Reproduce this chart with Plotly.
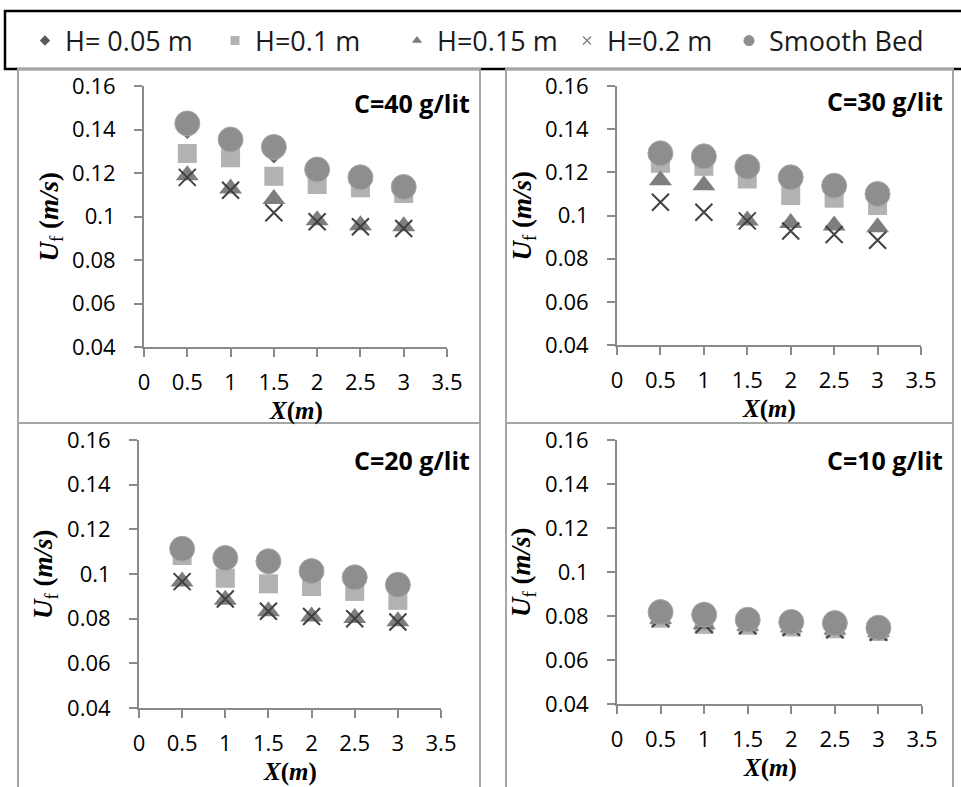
import plotly.graph_objects as go

W, H = 961, 787

# ---------------- data ----------------
x_pos = [0.5, 1, 1.5, 2, 2.5, 3]
series_names = ["H= 0.05 m", "H=0.1 m", "H=0.15 m", "H=0.2 m", "Smooth Bed"]
panel_titles = ["C=40 g/lit", "C=30 g/lit", "C=20 g/lit", "C=10 g/lit"]
x_ticks = [0, 0.5, 1, 1.5, 2, 2.5, 3, 3.5]
y_ticks = [0.04, 0.06, 0.08, 0.1, 0.12, 0.14, 0.16]

# C = 40 g/lit
c40_h005 = [0.1392, 0.1325, 0.1279, 0.1190, 0.1155, 0.1110]
c40_h01 = [0.1290, 0.1270, 0.1185, 0.1147, 0.1132, 0.1106]
c40_h015 = [0.1190, 0.1129, 0.1080, 0.0983, 0.0960, 0.0955]
c40_h02 = [0.1180, 0.1121, 0.1017, 0.0976, 0.0953, 0.0945]
c40_smooth = [0.1428, 0.1354, 0.1320, 0.1216, 0.1180, 0.1136]

# C = 30 g/lit
c30_h005 = [0.1260, 0.1250, 0.1200, 0.1150, 0.1110, 0.1075]
c30_h01 = [0.1242, 0.1228, 0.1169, 0.1092, 0.1080, 0.1046]
c30_h015 = [0.1163, 0.1140, 0.0977, 0.0965, 0.0954, 0.0946]
c30_h02 = [0.1061, 0.1015, 0.0975, 0.0928, 0.0912, 0.0885]
c30_smooth = [0.1288, 0.1274, 0.1226, 0.1177, 0.1138, 0.1100]

# C = 20 g/lit
c20_h005 = [0.1090, 0.1040, 0.1030, 0.0990, 0.0960, 0.0925]
c20_h01 = [0.1083, 0.0981, 0.0956, 0.0944, 0.0922, 0.0882]
c20_h015 = [0.0966, 0.0885, 0.0833, 0.0810, 0.0803, 0.0788]
c20_h02 = [0.0966, 0.0888, 0.0833, 0.0810, 0.0800, 0.0785]
c20_smooth = [0.1113, 0.1072, 0.1057, 0.1013, 0.0985, 0.0952]

# C = 10 g/lit
c10_h005 = [0.0795, 0.0775, 0.0765, 0.0758, 0.0750, 0.0735]
c10_h01 = [0.0790, 0.0762, 0.0758, 0.0750, 0.0742, 0.0730]
c10_h015 = [0.0788, 0.0762, 0.0756, 0.0749, 0.0739, 0.0727]
c10_h02 = [0.0788, 0.0761, 0.0756, 0.0749, 0.0737, 0.0726]
c10_smooth = [0.0818, 0.0806, 0.0783, 0.0773, 0.0768, 0.0747]

panels = [
    [c40_h005, c40_h01, c40_h015, c40_h02, c40_smooth],
    [c30_h005, c30_h01, c30_h015, c30_h02, c30_smooth],
    [c20_h005, c20_h01, c20_h015, c20_h02, c20_smooth],
    [c10_h005, c10_h01, c10_h015, c10_h02, c10_smooth],
]

# ---------------- styles ----------------
styles = [
    dict(symbol="diamond", size=12, color="#6b6b6b", line=dict(width=0)),
    dict(symbol="square", size=19, color="#b2b2b2", line=dict(width=0)),
    dict(symbol="triangle-up", size=20, color="#7e7e7e", line=dict(width=0)),
    dict(symbol="x-thin", size=17, color="#404040", line=dict(width=2, color="#404040")),
    dict(symbol="circle", size=25, color="#8e8e8e", line=dict(width=1, color="#a8a8a8")),
]
legend_styles = [
    dict(symbol="diamond", size=8, color="#595959", line=dict(width=0)),
    dict(symbol="square", size=9, color="#b2b2b2", line=dict(width=0)),
    dict(symbol="triangle-up", size=9, color="#7e7e7e", line=dict(width=0)),
    dict(symbol="x-thin", size=8, color="#7f7f7f", line=dict(width=1.3, color="#7f7f7f")),
    dict(symbol="circle", size=11, color="#8e8e8e", line=dict(width=0)),
]
legend_widths = [145, 137, 125, 117, 170]

# plot-area pixel boxes: (left, right, top, bottom)
boxes = [
    (144, 447, 86, 347),
    (617, 921, 86, 345),
    (139, 441, 440, 708),
    (617, 922, 440, 704),
]
# panel borders: (left, right, top, bottom)
borders = [
    (18, 480, 69, 423),
    (506, 953, 69, 423),
    (18, 480, 423, 800),
    (506, 953, 423, 800),
]
title_pos = [(472, 103), (945, 101), (472, 460), (945, 460)]

FONT = "Open Sans"
AXC = "#8a8a8a"

fig = go.Figure()

for p, series in enumerate(panels):
    suffix = "" if p == 0 else str(p + 1)
    for s, vals in enumerate(series):
        fig.add_trace(go.Scatter(
            x=x_pos, y=vals, mode="markers", name=series_names[s],
            marker=styles[s], showlegend=False,
            xaxis="x" + suffix, yaxis="y" + suffix,
        ))

# legend entries
for s, name in enumerate(series_names):
    fig.add_trace(go.Scatter(
        x=[None], y=[None], mode="markers", name=name,
        marker=legend_styles[s], showlegend=True, legendwidth=legend_widths[s],
    ))

layout = dict(
    width=W, height=H, margin=dict(l=0, r=0, t=0, b=0, autoexpand=False),
    paper_bgcolor="white", plot_bgcolor="white",
    showlegend=True,
    legend=dict(
        orientation="h", x=25 / W, xanchor="left", y=1 - 41 / H, yanchor="middle",
        font=dict(family=FONT, size=27, color="#1a1a1a"),
        bgcolor="rgba(0,0,0,0)", borderwidth=0, itemclick=False,
    ),
)

for p, (l, r, t, b) in enumerate(boxes):
    suffix = "" if p == 0 else str(p + 1)
    layout["xaxis" + suffix] = dict(
        domain=[l / W, r / W], range=[0, 3.5], anchor="y" + suffix,
        tickmode="array", tickvals=x_ticks, ticktext=[f"{v:g}" for v in x_ticks],
        showline=True, linecolor=AXC, linewidth=2, ticks="outside", ticklen=8,
        tickwidth=2, tickcolor=AXC, showgrid=False, zeroline=False,
        tickfont=dict(family=FONT, size=22, color="#000000"),
        ticklabelstandoff=7, fixedrange=True,
    )
    layout["yaxis" + suffix] = dict(
        domain=[1 - b / H, 1 - t / H], range=[0.04, 0.16], anchor="x" + suffix,
        tickmode="array", tickvals=y_ticks, ticktext=[f"{v:g}" for v in y_ticks],
        showline=True, linecolor=AXC, linewidth=2, ticks="outside", ticklen=8,
        tickwidth=2, tickcolor=AXC, showgrid=False, zeroline=False,
        tickfont=dict(family=FONT, size=22, color="#000000"),
        ticklabelstandoff=14, fixedrange=True,
    )

fig.update_layout(**layout)

shapes = []
# legend box
shapes.append(dict(type="rect", xref="paper", yref="paper",
                   x0=5 / W, x1=1.01, y0=1 - 69 / H, y1=1 - 11 / H,
                   line=dict(color="#000000", width=2.5), layer="below"))
for (l, r, t, b) in borders:
    shapes.append(dict(type="rect", xref="paper", yref="paper",
                       x0=l / W, x1=r / W, y0=1 - b / H, y1=1 - t / H,
                       line=dict(color="#a6a6a6", width=2), layer="below"))
fig.update_layout(shapes=shapes)

annotations = []
for p, (tx, ty) in enumerate(title_pos):
    annotations.append(dict(
        text="<b>" + panel_titles[p] + "</b>", xref="paper", yref="paper",
        x=tx / W, y=1 - ty / H, xanchor="right", yanchor="middle", showarrow=False,
        font=dict(family=FONT, size=25, color="#000000"),
    ))
for p, (l, r, t, b) in enumerate(boxes):
    # y title
    annotations.append(dict(
        text="<b><i>U</i></b><sub>f</sub> <b>(<i>m/s</i>)</b>",
        xref="paper", yref="paper", x=(l - 94) / W, y=1 - ((t + b) / 2) / H,
        xanchor="center", yanchor="middle", textangle=-90, showarrow=False,
        font=dict(family="Liberation Serif", size=27, color="#000000"),
    ))
    # x title
    annotations.append(dict(
        text="<b><i>X</i>(<i>m</i>)</b>",
        xref="paper", yref="paper", x=((l + r) / 2) / W, y=1 - (b + 64) / H,
        xanchor="center", yanchor="middle", showarrow=False,
        font=dict(family="Liberation Serif", size=25, color="#000000"),
    ))
fig.update_layout(annotations=annotations)

fig.write_html("out.html")
